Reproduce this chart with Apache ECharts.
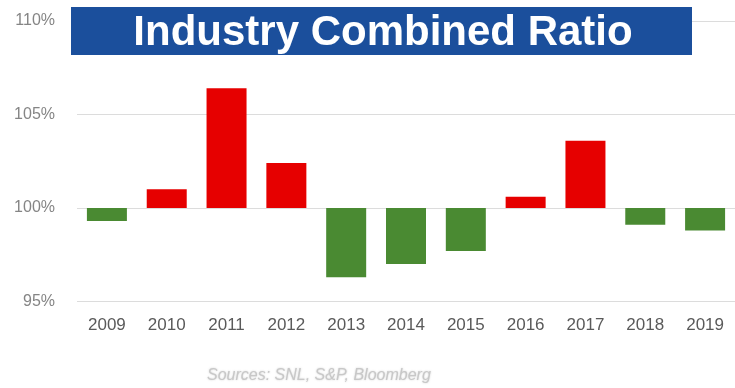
<!DOCTYPE html>
<html>
<head>
<meta charset="utf-8">
<script src="https://cdn.jsdelivr.net/npm/echarts@6/dist/echarts.min.js"></script>
<style>
  html, body { margin: 0; padding: 0; background: #ffffff; }
  #chart { width: 735px; height: 388px; }
</style>
</head>
<body>
<div id="chart"></div>
<script>
// Calendar years on the category axis
const years = ['2009', '2010', '2011', '2012', '2013', '2014', '2015', '2016', '2017', '2018', '2019'];
// Industry combined ratio per year, in percent
const combinedRatio = [99.3, 101.0, 106.4, 102.4, 96.3, 97.0, 97.7, 100.6, 103.6, 99.1, 98.8];
// Value-axis ticks, in percent
const ratioTicks = [95, 100, 105, 110];
const breakEven = 100;

const chartTitle = 'Industry Combined Ratio';
const sourceNote = 'Sources: SNL, S&P, Bloomberg';

const RED = '#e60000';
const GREEN = '#4a8a32';

// Bars hang from the 100% break-even line: plot the distance from it
const barData = combinedRatio.map(v => ({
  value: +(v - breakEven).toFixed(2),
  itemStyle: { color: v > breakEven ? RED : GREEN }
}));

const chart = echarts.init(document.getElementById('chart'), null, { renderer: 'canvas' });

chart.setOption({
  backgroundColor: '#ffffff',
  animation: false,
  grid: { left: 77, top: 21, width: 664, height: 280.5, containLabel: false },
  xAxis: {
    type: 'category',
    data: years,
    axisLine: { show: false },
    axisTick: { show: false },
    axisLabel: {
      color: '#5a5a5a',
      fontFamily: 'Liberation Sans, Arial, sans-serif',
      fontSize: 17,
      margin: 15
    }
  },
  yAxis: {
    type: 'value',
    min: ratioTicks[0] - breakEven,
    max: ratioTicks[ratioTicks.length - 1] - breakEven,
    interval: ratioTicks[1] - ratioTicks[0],
    axisLine: { show: false },
    axisTick: { show: false },
    splitLine: { lineStyle: { color: '#dcdcdc', width: 1 } },
    axisLabel: {
      color: '#858585',
      fontFamily: 'Liberation Sans, Arial, sans-serif',
      fontSize: 16,
      margin: 22,
      formatter: v => (v + breakEven) + '%'
    }
  },
  series: [{
    type: 'bar',
    data: barData,
    barWidth: 40
  }],
  graphic: [
    {
      type: 'rect',
      shape: { x: 71, y: 7, width: 621, height: 48 },
      style: { fill: '#1b4f9c' },
      z: 100
    },
    {
      type: 'text',
      x: 383,
      y: 33,
      z: 101,
      style: {
        text: chartTitle,
        fill: '#ffffff',
        font: 'bold 42px "Liberation Sans", Arial, sans-serif',
        align: 'center',
        verticalAlign: 'middle'
      }
    },
    {
      type: 'text',
      x: 207,
      y: 376,
      style: {
        text: sourceNote,
        fill: '#c8c8c8',
        font: 'italic 16px "Liberation Sans", Arial, sans-serif',
        align: 'left',
        verticalAlign: 'middle',
        textShadowColor: 'rgba(195,195,195,0.8)',
        textShadowBlur: 2
      }
    }
  ]
});
</script>
</body>
</html>
